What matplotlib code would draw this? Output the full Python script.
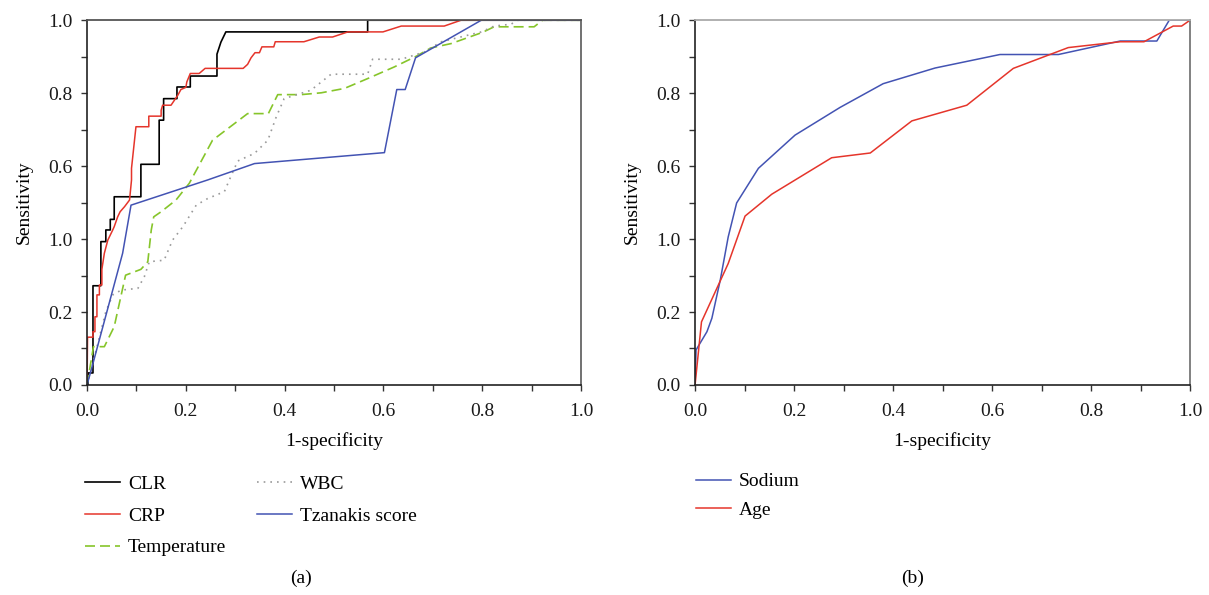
import matplotlib
matplotlib.use("Agg")
from matplotlib import pyplot as plt
from matplotlib.ticker import MultipleLocator, FixedLocator, FixedFormatter

plt.rcParams['font.family'] = ['Liberation Serif', 'DejaVu Serif']
plt.rcParams['font.size'] = 14

# ROC curves, panel (a)
clr_fpr = [0.0, 0.002, 0.002, 0.012, 0.012, 0.028, 0.028, 0.038, 0.038, 0.047, 0.047, 0.055, 0.055,
           0.109, 0.109, 0.146, 0.146, 0.155, 0.155, 0.182, 0.182, 0.209, 0.209, 0.263, 0.263,
           0.271, 0.281, 0.568, 0.568, 1.0]
clr_tpr = [0.0, 0.0, 0.033, 0.033, 0.272, 0.272, 0.393, 0.393, 0.425, 0.425, 0.454, 0.454, 0.516,
           0.516, 0.605, 0.605, 0.726, 0.726, 0.785, 0.785, 0.817, 0.817, 0.847, 0.847, 0.907,
           0.940, 0.968, 0.968, 1.0, 1.0]

crp_fpr = [0.0, 0.001, 0.012, 0.012, 0.016, 0.016, 0.020, 0.020, 0.025, 0.025, 0.030, 0.030, 0.035,
           0.042, 0.047, 0.052, 0.055, 0.062, 0.067, 0.076, 0.086, 0.088, 0.090, 0.090, 0.099, 0.125,
           0.125, 0.150, 0.150, 0.153, 0.170, 0.184, 0.190, 0.200, 0.202, 0.209, 0.227, 0.239, 0.316,
           0.325, 0.332, 0.340, 0.349, 0.354, 0.378, 0.381, 0.439, 0.470, 0.497, 0.528, 0.599, 0.636,
           0.723, 0.757, 1.0]
crp_tpr = [0.0, 0.131, 0.131, 0.146, 0.146, 0.187, 0.187, 0.247, 0.247, 0.274, 0.274, 0.317, 0.361,
           0.397, 0.411, 0.425, 0.434, 0.461, 0.475, 0.489, 0.507, 0.534, 0.562, 0.594, 0.708, 0.708,
           0.737, 0.737, 0.753, 0.767, 0.767, 0.795, 0.810, 0.816, 0.831, 0.854, 0.854, 0.868, 0.868,
           0.879, 0.897, 0.911, 0.911, 0.927, 0.927, 0.941, 0.941, 0.954, 0.954, 0.968, 0.968, 0.984,
           0.984, 1.0, 1.0]

temp_fpr = [0.0, 0.013, 0.035, 0.055, 0.078, 0.109, 0.123, 0.130, 0.135, 0.150, 0.180, 0.207, 0.254,
            0.325, 0.367, 0.386, 0.433, 0.474, 0.521, 0.568, 0.622, 0.666, 0.696, 0.737, 0.801, 0.824,
            0.905, 0.922, 1.0]
temp_tpr = [0.0, 0.105, 0.105, 0.160, 0.301, 0.317, 0.338, 0.425, 0.461, 0.475, 0.507, 0.553, 0.671,
            0.744, 0.744, 0.796, 0.796, 0.801, 0.813, 0.840, 0.872, 0.901, 0.924, 0.936, 0.967, 0.982,
            0.982, 1.0, 1.0]

wbc_fpr = [0.0, 0.012, 0.038, 0.052, 0.069, 0.103, 0.116, 0.126, 0.156, 0.173, 0.194, 0.221, 0.244,
           0.278, 0.288, 0.305, 0.339, 0.366, 0.383, 0.399, 0.453, 0.494, 0.568, 0.578, 0.636, 0.683,
           0.717, 0.798, 0.824, 0.858, 0.872, 1.0]
wbc_tpr = [0.0, 0.061, 0.201, 0.247, 0.260, 0.265, 0.297, 0.338, 0.342, 0.397, 0.434, 0.493, 0.511,
           0.530, 0.562, 0.614, 0.635, 0.671, 0.735, 0.785, 0.808, 0.852, 0.852, 0.893, 0.893, 0.913,
           0.941, 0.968, 0.984, 0.989, 1.0, 1.0]

tz_fpr = [0.0, 0.012, 0.072, 0.089, 0.244, 0.339, 0.602, 0.627, 0.644, 0.665, 0.798, 1.0]
tz_tpr = [0.0, 0.059, 0.361, 0.493, 0.562, 0.607, 0.637, 0.810, 0.810, 0.897, 1.0, 1.0]

# panel (b)
na_fpr = [0.0, 0.002, 0.024, 0.034, 0.051, 0.067, 0.084, 0.128, 0.202, 0.293, 0.380, 0.485, 0.616,
          0.734, 0.859, 0.933, 0.958, 1.0]
na_tpr = [0.0, 0.096, 0.146, 0.183, 0.288, 0.406, 0.499, 0.594, 0.685, 0.761, 0.826, 0.869, 0.906,
          0.906, 0.943, 0.943, 1.0, 1.0]

age_fpr = [0.0, 0.013, 0.067, 0.101, 0.155, 0.276, 0.354, 0.438, 0.549, 0.643, 0.754, 0.859, 0.907,
           0.966, 0.983, 1.0]
age_tpr = [0.0, 0.173, 0.333, 0.463, 0.523, 0.623, 0.636, 0.724, 0.767, 0.868, 0.925, 0.941, 0.941,
           0.984, 0.984, 1.0]

tick_vals = [0.0, 0.2, 0.4, 0.6, 0.8, 1.0]
ytick_text = ["0.0", "0.2", "1.0", "0.6", "0.8", "1.0"]
xtick_text = ["0.0", "0.2", "0.4", "0.6", "0.8", "1.0"]

red = "#e5352b"
blue = "#4353b3"
green = "#86c52a"
gray = "#9a9a9a"

fig = plt.figure(figsize=(12.09, 5.95), dpi=100)
ax1 = fig.add_axes([0.072, 0.353, 0.4086, 0.613])
ax2 = fig.add_axes([0.5749, 0.353, 0.4094, 0.613])

ax1.plot(clr_fpr, clr_tpr, color="black", lw=1.2, label="CLR")
ax1.plot(crp_fpr, crp_tpr, color=red, lw=1.1, label="CRP")
ax1.plot(temp_fpr, temp_tpr, color=green, lw=1.2, dashes=(6, 3), label="Temperature")
ax1.plot(wbc_fpr, wbc_tpr, color=gray, lw=1.2, linestyle=(0, (1, 3)), label="WBC")
ax1.plot(tz_fpr, tz_tpr, color=blue, lw=1.1, label="Tzanakis score")

ax2.plot(na_fpr, na_tpr, color=blue, lw=1.1, label="Sodium")
ax2.plot(age_fpr, age_tpr, color=red, lw=1.1, label="Age")

for ax in (ax1, ax2):
    ax.set_xlim(0, 1)
    ax.set_ylim(0, 1)
    ax.xaxis.set_major_locator(FixedLocator(tick_vals))
    ax.xaxis.set_major_formatter(FixedFormatter(xtick_text))
    ax.yaxis.set_major_locator(FixedLocator(tick_vals))
    ax.yaxis.set_major_formatter(FixedFormatter(ytick_text))
    ax.xaxis.set_minor_locator(MultipleLocator(0.1))
    ax.yaxis.set_minor_locator(MultipleLocator(0.1))
    ax.tick_params(which="both", direction="out", length=4, width=1, color="#333333",
                   labelsize=14, labelcolor="#1a1a1a")
    ax.tick_params(axis="x", pad=9)
    ax.tick_params(axis="y", pad=6.5)
    for s in ("left", "bottom"):
        ax.spines[s].set_color("#222222")
        ax.spines[s].set_linewidth(1.2)
    ax.set_xlabel("1-specificity", fontsize=14, labelpad=9)
    ax.set_ylabel("Sensitivity", fontsize=14, labelpad=11)

ax1.spines["top"].set_color("#555555")
ax1.spines["right"].set_color("#666666")
ax2.spines["top"].set_color("#aaaaaa")
ax2.spines["right"].set_color("#777777")
for ax in (ax1, ax2):
    ax.spines["top"].set_linewidth(1.3)
    ax.spines["right"].set_linewidth(1.3)

h1, l1 = ax1.get_legend_handles_labels()
fig.legend(h1, l1, loc="upper left", bbox_to_anchor=(0.0703, 0.2015), ncol=2, frameon=False,
           handlelength=1.8, handletextpad=0.42, labelspacing=0.73, columnspacing=1.55,
           borderpad=0, borderaxespad=0, fontsize=14)
h2, l2 = ax2.get_legend_handles_labels()
fig.legend(h2, l2, loc="upper left", bbox_to_anchor=(0.5755, 0.2055), ncol=1, frameon=False,
           handlelength=1.8, handletextpad=0.42, labelspacing=0.55,
           borderpad=0, borderaxespad=0, fontsize=14)

fig.text(0.249, 0.028, "(a)", ha="center", va="center", fontsize=14)
fig.text(0.7545, 0.028, "(b)", ha="center", va="center", fontsize=14)

fig.savefig("out.png", dpi=100)
